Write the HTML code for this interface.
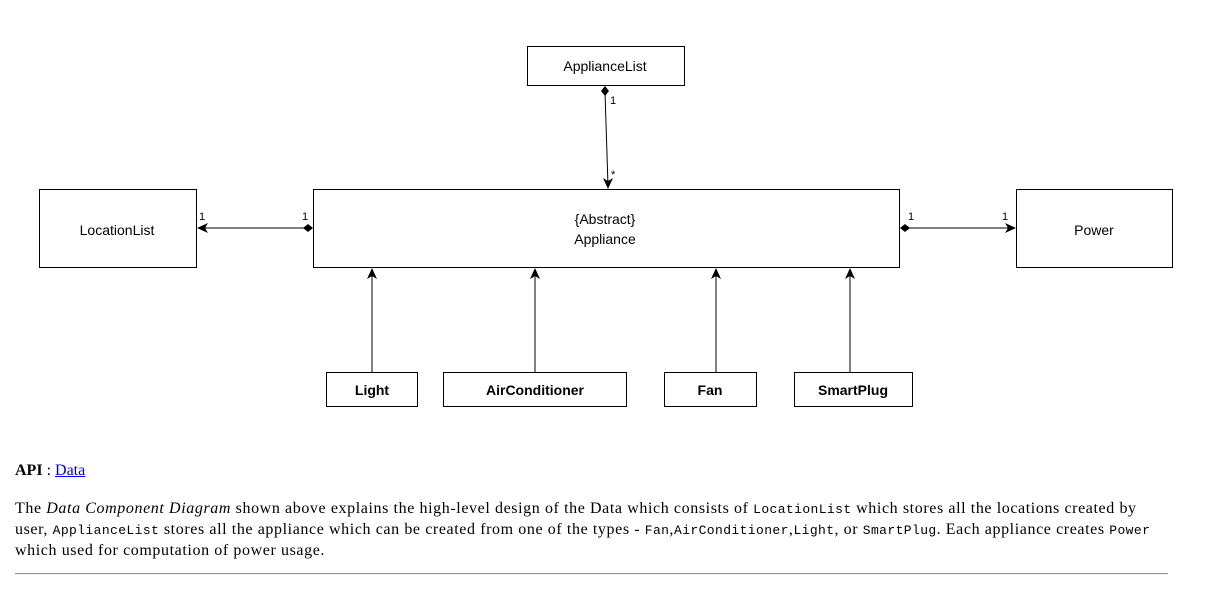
<!DOCTYPE html>
<html><head><style>
body{margin:0;width:1223px;height:609px;background:#fff;position:relative;overflow:hidden}
svg{position:absolute;left:0;top:0}
.t{position:absolute;left:15px;font-family:"Liberation Serif",serif;font-size:16px;color:#000;line-height:20px;width:1200px;white-space:nowrap}
.p{letter-spacing:0.6px}
code{font-family:"Liberation Mono",monospace;font-size:13px;letter-spacing:0.4px}
a{color:#00e}
</style></head><body>
<svg width="1223" height="440" font-family="Liberation Sans, sans-serif" font-size="14">
<g fill="#fff" stroke="#000" stroke-width="1">
<rect x="527.5" y="46.5" width="157" height="39"/>
<rect x="39.5" y="189.5" width="157" height="78"/>
<rect x="313.5" y="189.5" width="586" height="78"/>
<rect x="1016.5" y="189.5" width="156" height="78"/>
<rect x="326.5" y="372.5" width="91" height="34"/>
<rect x="443.5" y="372.5" width="183" height="34"/>
<rect x="664.5" y="372.5" width="92" height="34"/>
<rect x="794.5" y="372.5" width="118" height="34"/>
</g>
<g text-anchor="middle">
<text x="605" y="71">ApplianceList</text>
<text x="117" y="235">LocationList</text>
<text x="605" y="224">{Abstract}</text>
<text x="605" y="244">Appliance</text>
<text x="1094" y="235">Power</text>
<g font-weight="bold"><text x="372" y="395">Light</text><text x="535" y="395">AirConditioner</text><text x="710" y="395">Fan</text><text x="853" y="395">SmartPlug</text></g>
</g>
<g stroke="#000" fill="none">
<line x1="605" y1="92" x2="608" y2="186"/>
<line x1="204" y1="228" x2="306" y2="228"/>
<line x1="906" y1="228" x2="1012" y2="228"/>
<line x1="372" y1="372" x2="372" y2="272"/>
<line x1="535" y1="372" x2="535" y2="272"/>
<line x1="716" y1="372" x2="716" y2="272"/>
<line x1="850" y1="372" x2="850" y2="272"/>
</g>
<g fill="#000">
<polygon points="605,86 609,91 605,96 601,91"/>
<polygon points="608,189 603,178 608,181 613,178"/>
<polygon points="313,228 308,224 303,228 308,232"/>
<polygon points="197,228 208,223 205,228 208,233"/>
<polygon points="900,228 905,224 910,228 905,232"/>
<polygon points="1016,228 1005,223 1008,228 1005,233"/>
<polygon points="372,268 367,279 372,276 377,279"/>
<polygon points="535,268 530,279 535,276 540,279"/>
<polygon points="716,268 711,279 716,276 721,279"/>
<polygon points="850,268 845,279 850,276 855,279"/>
</g>
<g font-size="11">
<text x="610" y="104">1</text><text x="611" y="178">*</text>
<text x="199" y="220">1</text><text x="302" y="220">1</text>
<text x="908" y="220">1</text><text x="1002" y="220">1</text>
</g>
</svg>
<div class="t" style="top:461px"><b>API</b> : <a href="#">Data</a></div>
<div class="t p" style="top:499px">The <i>Data Component Diagram</i> shown above explains the high-level design of the Data which consists of <code>LocationList</code> which stores all the locations created by<br>user, <code>ApplianceList</code> stores all the appliance which can be created from one of the types - <code>Fan</code>,<code>AirConditioner</code>,<code>Light</code>, or <code>SmartPlug</code>. Each appliance creates <code>Power</code><br>which used for computation of power usage.</div>
<div style="position:absolute;left:15px;top:573px;width:1153px;height:0;border-top:1px solid #999;border-bottom:1px solid #eee"></div>
</body></html>
